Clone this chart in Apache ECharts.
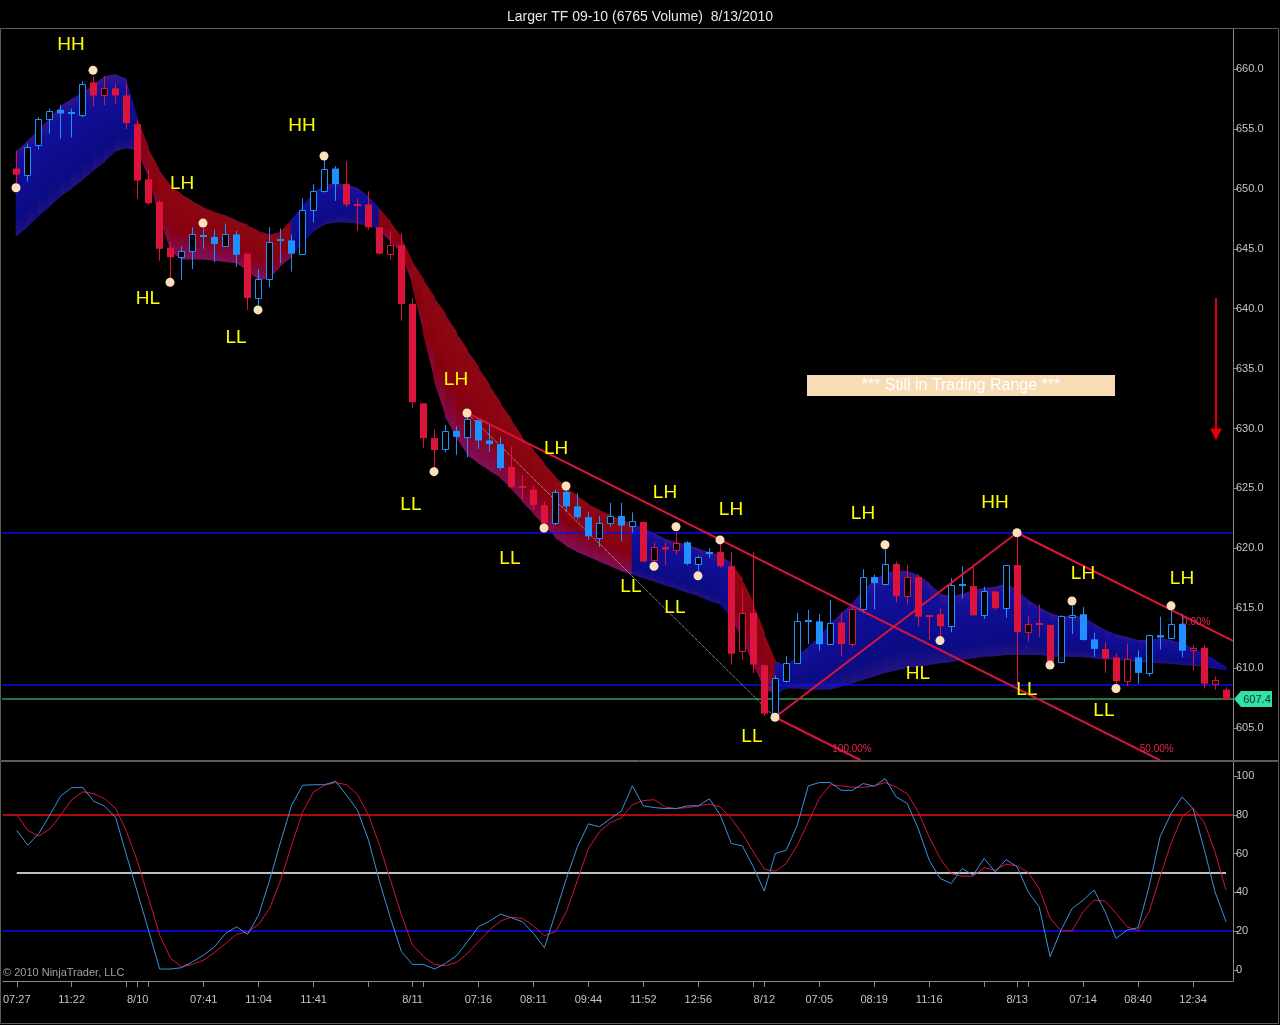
<!DOCTYPE html>
<html><head><meta charset="utf-8">
<script src="https://cdn.jsdelivr.net/npm/echarts@6/dist/echarts.min.js"></script>
<style>html,body{margin:0;padding:0;background:#000;}#c{width:1280px;height:1025px;}</style>
</head><body><div id="c"></div>
<script>
// ---------- DATA ----------
const opens = [651.7,651.2,653.7,655.8,656.6,656.3,656.2,658.9,657.8,658.4,
657.8,655.4,650.8,648.9,645.1,644.3,644.8,646.1,646.0,645.2,
646.2,644.6,640.9,642.5,645.7,645.7,644.6,648.2,649.8,651.7,
650.4,648.7,648.7,646.8,644.6,645.3,640.4,632.1,629.2,628.3,
629.8,629.3,630.7,629.0,628.7,626.8,625.1,624.9,623.6,622.1,
624.7,623.5,622.6,620.9,622.1,622.7,621.9,622.2,619.0,620.1,
619.9,620.5,618.7,619.6,619.7,618.5,611.4,614.6,610.25,606.1,
608.9,610.4,613.9,613.9,612.0,613.8,612.0,614.9,617.6,617.05,
618.7,616.0,617.6,614.35,614.5,613.5,616.9,616.85,614.4,616.4,
615.0,618.6,613.0,613.7,613.6,610.5,614.3,614.5,612.4,611.6,
610.9,608.9,610.9,609.6,612.75,612.55,613.7,611.5,611.7,608.7,608.2];
const highs = [653.2,653.8,656.0,656.7,657.0,656.7,659.0,659.4,659.4,658.8,
658.8,655.7,651.6,649.0,645.6,645.2,646.8,646.7,646.6,647.1,
646.5,644.6,643.3,646.8,646.7,646.2,649.2,650.4,652.4,651.9,
652.3,649.2,649.8,646.8,646.5,646.3,640.9,632.1,629.9,630.3,
630.2,630.95,630.7,630.3,629.3,628.5,626.1,625.3,623.9,624.9,
624.85,624.6,623.0,622.7,623.8,623.8,623.0,622.25,620.5,620.5,
621.25,620.6,619.4,620.0,620.4,619.7,616.6,619.7,610.3,609.4,
611.0,614.6,614.85,614.5,615.7,614.6,615.3,618.25,617.8,619.9,
618.9,618.6,617.8,614.4,615.0,617.5,618.5,618.7,616.8,616.4,
618.6,621.0,614.35,615.3,613.6,614.4,615.2,615.1,612.95,612.2,
611.2,612.05,611.5,612.8,614.3,614.8,614.55,611.9,611.9,609.3,608.4];
const lows = [650.5,650.6,653.3,654.6,654.2,654.3,656.0,656.9,657.0,657.1,
655.0,649.2,648.7,644.0,642.3,642.4,643.3,645.0,643.9,645.2,
643.5,639.9,640.3,641.8,643.8,643.1,644.5,647.2,649.7,649.0,
648.5,646.5,646.6,644.5,644.1,639.0,631.7,628.4,626.7,628.0,
627.8,627.6,628.3,628.0,626.5,625.0,624.05,623.2,622.0,621.95,
623.1,622.4,620.7,620.1,621.8,620.6,621.3,618.9,618.85,618.6,
619.5,618.6,618.1,619.2,618.4,610.3,610.7,609.6,606.0,605.95,
608.8,610.4,612.0,611.45,612.0,611.0,611.8,614.6,614.9,616.9,
615.5,615.3,613.5,612.35,612.6,613.0,615.8,614.4,614.1,614.85,
614.2,608.7,612.2,612.6,610.3,610.4,612.85,612.3,610.95,609.6,
608.6,608.5,608.7,609.3,611.55,612.5,610.9,609.8,608.3,608.2,607.4];
const closes = [651.2,653.5,655.8,656.5,656.3,656.3,658.8,657.8,658.4,657.8,
655.5,650.7,648.8,645.0,644.3,644.8,646.2,646.1,645.4,646.2,
644.5,640.9,642.5,645.6,645.7,644.6,648.2,649.8,651.7,650.4,
648.7,648.7,646.8,644.6,645.3,640.4,632.2,629.2,628.2,629.8,
629.3,630.8,629.0,628.7,626.7,625.1,625.1,623.6,622.1,624.7,
623.5,622.6,621.0,622.1,622.7,621.9,622.25,618.9,620.1,619.9,
620.45,618.7,619.3,619.6,618.5,611.2,614.6,610.3,606.2,609.2,
610.4,613.9,613.9,612.0,613.8,612.0,614.9,617.6,617.1,618.7,
616.0,617.6,614.3,614.35,613.5,616.9,616.9,614.4,616.4,615.0,
618.6,613.0,613.7,613.7,610.5,614.35,614.45,612.35,611.6,610.8,
608.9,610.8,609.6,612.75,612.55,613.7,611.45,611.7,608.7,609.0,607.4];
// bar paint signal: 1 = up (blue), -1 = down (red)
const barTrend = [-1,1,1,1,1,1,1,-1,-1,-1, -1,-1,-1,-1,-1,1,1,1,1,1, 1,-1,1,1,1,1,1,1,1,1,
-1,-1,-1,-1,-1,-1,-1,-1,-1,1, 1,1,1,1,1,-1,-1,-1,-1,1, 1,1,1,1,1,1,1,-1,-1,-1,
-1,1,1,1,-1,-1,-1,-1,-1,1, 1,1,1,1,1,-1,-1,1,1,1, -1,-1,-1,-1,-1,1,1,-1,1,-1,
1,-1,-1,-1,-1,1,1,1,1,-1, -1,-1,1,1,1,1,1,-1,-1,-1,-1];
// moving-average ribbon edges and state
const ribbonUpper = [653.1,654.0,654.9,655.9,656.9,657.5,658.0,658.7,659.4,659.6,
659.2,656.0,653.5,651.6,650.3,649.6,649.0,648.5,648.1,647.8,
647.4,647.0,646.5,646.2,646.4,647.4,648.5,649.7,650.3,650.5,
650.4,650.1,649.4,648.4,647.3,646.0,644.0,642.5,641.0,639.6,
638.1,636.6,635.2,633.7,632.2,630.8,629.3,628.3,627.1,626.0,
625.1,624.4,623.75,623.2,622.8,622.4,622.1,621.7,621.25,620.8,
620.55,620.3,620.0,619.7,619.4,618.8,617.5,615.5,613.0,610.6,
610.2,611.0,611.8,612.6,613.7,614.6,615.4,616.5,617.35,617.9,
618.2,618.1,617.8,617.1,616.2,616.0,616.2,616.5,616.7,616.8,
617.1,616.5,615.7,615.1,614.6,614.3,614.4,614.3,613.7,613.2,
612.8,612.6,612.35,612.35,612.5,612.35,612.1,611.65,611.2,610.7,610.1];
const ribbonLower = [646.0,646.8,647.7,648.5,649.35,650.0,650.7,651.5,652.2,653.1,
653.4,653.2,651.0,647.7,644.8,644.1,644.1,644.1,644.0,643.9,
643.8,643.2,642.4,642.5,643.5,644.3,645.5,646.4,647.0,647.2,
647.2,647.1,646.9,646.6,645.6,644.7,642.0,638.0,634.0,631.0,
629.3,627.8,627.1,626.5,625.9,625.0,623.9,622.9,621.9,620.9,
620.2,619.7,619.3,618.9,618.5,618.1,617.8,617.5,617.2,616.9,
616.6,616.3,616.0,615.6,615.3,614.2,612.4,610.3,608.3,607.8,
608.3,608.3,608.2,608.2,608.2,608.45,608.7,609.0,609.3,609.6,
609.8,610.0,610.1,610.25,610.4,610.5,610.7,610.8,610.95,611.0,
611.1,611.1,611.1,611.1,611.0,610.95,610.95,610.9,610.8,610.7,
610.7,610.6,610.5,610.45,610.4,610.35,610.25,610.2,610.1,609.95,609.8];
const ribbonTrend = [1,1,1,1,1,1,1,1,1,1, 1,-1,-1,-1,-1,-1,-1,-1,-1,-1, -1,-1,-1,-1,-1,1,1,1,1,1,
1,1,1,-1,-1,-1,-1,-1,-1,-1, -1,-1,-1,-1,-1,-1,-1,-1,-1,-1, -1,-1,-1,-1,-1,-1,1,1,1,1,
1,1,1,1,1,-1,-1,-1,-1,1, 1,1,1,1,1,1,1,1,1,1, 1,1,1,1,1,1,1,1,1,1,
1,1,1,1,1,1,1,1,1,1, 1,1,1,1,1,1,1,1,1,1,1];
// stochastics
const stochK = [72.0,64.3,70.3,79.8,89.7,94.0,94.0,87.0,84.4,78.6,
58.8,39.5,20.2,0.5,0.5,1.2,4.3,7.7,12.0,18.9,
22.3,18.4,28.3,46.3,66.0,84.9,95.2,95.5,95.5,97.3,
90.1,82.3,66.9,45.5,26.6,9.4,2.9,2.9,0.5,3.4,
7.4,14.6,22.3,25.2,28.8,26.9,24.9,18.9,11.5,29.2,
47.2,63.5,75.3,73.8,78.0,82.0,94.9,84.6,83.7,83.2,
83.2,84.6,84.6,88.2,79.8,65.2,64.0,53.2,40.7,60.0,
61.7,74.6,94.9,96.6,96.6,92.6,92.6,96.1,94.7,98.6,
89.2,85.8,72.9,56.6,47.2,44.6,52.3,48.9,57.5,50.6,
56.9,53.2,40.3,32.6,6.9,20.6,31.7,36.0,41.2,30.0,
16.3,20.6,21.8,42.9,68.6,80.6,89.2,83.2,62.6,40.3,24.9];
const stochD = [80.1,72.0,69.0,72.6,79.8,87.8,91.8,90.9,88.3,83.2,
71.2,55.7,36.9,18.0,6.0,1.7,2.9,5.1,9.1,13.7,
18.4,19.7,23.5,31.7,46.3,64.3,81.5,91.8,95.2,96.6,
95.5,90.4,79.8,64.3,46.3,28.3,12.9,6.9,2.9,2.2,
3.9,8.6,14.6,20.6,25.2,27.3,26.6,22.8,17.7,19.7,
30.0,46.3,62.6,71.2,76.0,78.4,85.2,87.3,87.8,84.0,
83.2,83.7,84.6,85.6,84.0,78.0,70.3,60.9,52.0,50.9,
54.9,64.3,76.3,88.3,95.5,94.9,94.2,94.2,94.9,96.6,
94.3,90.9,81.5,68.6,57.5,49.7,48.4,48.4,52.7,51.5,
54.5,53.7,50.3,42.0,26.6,20.2,20.2,30.0,36.0,35.5,
29.2,22.3,20.2,30.0,48.0,65.2,78.9,83.5,76.3,60.9,41.2];
const stochLevels = [80, 50, 20];
// x axis labels
const xLabelIdx = [0,5,11,17,22,27,36,42,47,52,57,62,68,73,78,83,91,97,102,107];
const xLabelText = ['07:27','11:22','8/10','07:41','11:04','11:41','8/11','07:16','08:11','09:44','11:52','12:56','8/12','07:05','08:19','11:16','8/13','07:14','08:40','12:34'];
const xTickIdx = [0,5,10,11,12,17,22,27,32,36,37,42,47,52,57,62,67,68,73,78,83,88,91,92,97,102,107];
const priceTicks = [605,610,615,620,625,630,635,640,645,650,655,660];
const oscTicks = [0,20,40,60,80,100];
// swing points (bar index, price)
const swingIdx   = [7,17,28,41,50,60,64,79,91,96,105, 0,14,22,38,48,58,62,69,84,94,100];
const swingPrice = [659.9,647.15,652.75,631.3,625.2,621.8,620.7,620.3,621.3,615.6,615.2,
                    650.1,642.2,639.9,626.4,621.7,618.5,617.7,605.9,612.3,610.25,608.3];
// pattern labels
const patText  = ['HH','HH','LH','HL','LL','LH','LL','LH','LL','LH','LL','LH','LL','LL','LH','HH','HL','LL','LH','LL','LH'];
const patIdx   = [5,26,15.1,12,20,40,35.9,49.1,44.9,59,55.9,65,59.9,66.9,77,89,82,91.9,97,98.9,106];
const patPrice = [662.0,655.25,650.4,640.8,637.6,634.05,623.6,628.3,619.1,624.6,616.8,623.2,615.0,604.25,622.9,623.8,609.5,608.2,617.85,606.4,617.5];
// drawn lines: [x1, y1, x2, y2]
const channelLines = [[91,621.3,110.64,612.27],[41,631.3,104,602.32],[69,605.9,76.76,602.33],[69,605.9,91,621.3]];
const dottedLine = [41,631.3,69,605.9];
const channelPctText = ['0.00%','50.00%','100.00%'];
const channelPctIdx = [107.3,103.7,76.0];
const channelPctPrice = [613.87,603.25,603.25];
const levelLines = [621.28, 608.6];
const lastPrice = 607.4;
const arrowLine = [109.1, 640.9, 629.0];
const noteText = '*** Still in Trading Range ***';
const notePos = [85.9, 633.6];

// ---------- CHART ----------
const XMIN = -14/11, XMAX = 1217/11;
const FONT = 'Liberation Sans, Arial, sans-serif';
const chart = echarts.init(document.getElementById('c'), null, {renderer:'canvas'});
const N = opens.length;
const bars = opens.map((o,i)=>[i,o,highs[i],lows[i],closes[i],barTrend[i]]);
const ribbonSeg = [];
for (let i=0;i<N-1;i++) ribbonSeg.push([i, ribbonUpper[i], ribbonLower[i], ribbonUpper[i+1], ribbonLower[i+1], ribbonTrend[i]]);
const BLUE='#1e90ff', RED='#dc143c';

function renderCandle(params, api){
  const i=api.value(0), o=api.value(1), h=api.value(2), l=api.value(3), c=api.value(4), t=api.value(5);
  const col = t>0 ? BLUE : RED;
  const pO=api.coord([i,o]), pC=api.coord([i,c]), pH=api.coord([i,h]), pL=api.coord([i,l]);
  const x = Math.round(pO[0])+0.5;
  const ch=[];
  const top=Math.min(pO[1],pC[1]), bot=Math.max(pO[1],pC[1]);
  if (Math.abs(c-o)<0.06){
    ch.push({type:'line',shape:{x1:x,y1:pH[1],x2:x,y2:pL[1]},style:{stroke:col,lineWidth:1}});
    const yy=Math.round(pO[1]);
    ch.push({type:'rect',shape:{x:x-3.5,y:yy-1,width:7,height:2},style:{fill:col}});
  } else if (c<o){
    ch.push({type:'line',shape:{x1:x,y1:pH[1],x2:x,y2:pL[1]},style:{stroke:col,lineWidth:1}});
    ch.push({type:'rect',shape:{x:x-3.5,y:top,width:7,height:Math.max(1.5,bot-top)},style:{fill:col}});
  } else {
    const t0=Math.round(top)+0.5, b0=Math.round(bot)+0.5;
    ch.push({type:'line',shape:{x1:x,y1:pH[1],x2:x,y2:t0},style:{stroke:col,lineWidth:1}});
    ch.push({type:'line',shape:{x1:x,y1:b0,x2:x,y2:pL[1]},style:{stroke:col,lineWidth:1}});
    ch.push({type:'rect',shape:{x:x-3,y:t0,width:6,height:Math.max(1,b0-t0)},style:{fill:'#000',stroke:col,lineWidth:1}});
  }
  return {type:'group',children:ch};
}
function renderRibbon(params, api){
  const i=api.value(0);
  const a=api.coord([i,api.value(1)]), b=api.coord([i+1,api.value(3)]);
  const c=api.coord([i+1,api.value(4)]), d=api.coord([i,api.value(2)]);
  const st=api.value(5);
  const grad = st>0
    ? new echarts.graphic.LinearGradient(0,0,0,1,[{offset:0,color:'#3c1686'},{offset:0.18,color:'#12109a'},{offset:0.8,color:'#0b0b84'},{offset:1,color:'#26137e'}])
    : new echarts.graphic.LinearGradient(0,0,0,1,[{offset:0,color:'#6a0a34'},{offset:0.1,color:'#8e0812'},{offset:0.6,color:'#860010'},{offset:1,color:'#7e1062'}]);
  return {type:'group',children:[{type:'polygon',silent:true,shape:{points:[[a[0]-0.3,a[1]],[b[0]+0.7,b[1]],[c[0]+0.7,c[1]],[d[0]-0.3,d[1]]]},style:{fill:grad}}]};
}
function textSeries(data, fill, font){
  return {type:'custom',xAxisIndex:0,yAxisIndex:0,silent:true,z:20,data:data.map(d=>[d[0],d[1]]),
    renderItem:(p,api)=>{const pt=api.coord([api.value(0),api.value(1)]);
      return {type:'group',children:[{type:'text',x:pt[0],y:pt[1],style:{text:data[p.dataIndex][2],fill:fill,font:font,align:'center',verticalAlign:'middle'}}]};}};
}
function seg(x1,y1,x2,y2,color,width,type,xi,yi,z){
  return {type:'line',xAxisIndex:xi||0,yAxisIndex:yi||0,data:[[x1,y1],[x2,y2]],symbol:'none',silent:true,z:z||5,
    lineStyle:{color:color,width:width,type:type||'solid'},animation:false};
}
// horizontal rule from x1 to x2 at level v (spread over two pixel rows so its colour survives)
function hline(x1,x2,v,color,xi,yi,z){
  return {type:'custom',xAxisIndex:xi,yAxisIndex:yi,silent:true,z:z||3,data:[[x1,v,x2]],clip:false,
    renderItem:(p,api)=>{const a=api.coord([api.value(0),api.value(1)]), b=api.coord([api.value(2),api.value(1)]);
      const y=Math.round(a[1]);
      return {type:'group',children:[{type:'line',shape:{x1:a[0],y1:y,x2:b[0],y2:y},style:{stroke:color,lineWidth:1.6}}]};}};
}

const series = [];
series.push({type:'custom',xAxisIndex:0,yAxisIndex:0,data:ribbonSeg,renderItem:renderRibbon,z:1,silent:true});
levelLines.forEach(v=>series.push(hline(XMIN,XMAX,v,'#0c0cf0',0,0,3)));
series.push(hline(XMIN,XMAX,lastPrice,'#2e9a5e',0,0,3));
series.push(seg(dottedLine[0],dottedLine[1],dottedLine[2],dottedLine[3],'#c8c8c8',1,'dotted',0,0,4));
series.push({type:'custom',xAxisIndex:0,yAxisIndex:0,data:bars,renderItem:renderCandle,z:6,silent:true});
channelLines.forEach(l=>series.push(seg(l[0],l[1],l[2],l[3],'#dc143c',2,'solid',0,0,8)));
series.push({type:'scatter',xAxisIndex:0,yAxisIndex:0,data:swingIdx.map((x,k)=>[x,swingPrice[k]]),symbol:'circle',symbolSize:9,
  itemStyle:{color:'#fbe0bb',opacity:1},z:9,silent:true});
series.push(textSeries(patText.map((t,k)=>[patIdx[k],patPrice[k],t]),'#ffff00','19px '+FONT));
series.push(textSeries(channelPctText.map((t,k)=>[channelPctIdx[k],channelPctPrice[k],t]),'#e0284a','10px '+FONT));
// note box
series.push({type:'custom',xAxisIndex:0,yAxisIndex:0,data:[notePos],silent:true,z:21,renderItem:(p,api)=>{
  const pt=api.coord([api.value(0),api.value(1)]);
  return {type:'group',children:[
    {type:'rect',shape:{x:Math.round(pt[0]-154),y:Math.round(pt[1]-10.5),width:308,height:21},style:{fill:'#f7dcb5'}},
    {type:'text',x:pt[0],y:pt[1]+0.5,style:{text:noteText,fill:'#ffffff',font:'16px '+FONT,align:'center',verticalAlign:'middle'}}]};}});
// red arrow
series.push({type:'custom',xAxisIndex:0,yAxisIndex:0,data:[arrowLine],silent:true,z:21,renderItem:(p,api)=>{
  const a=api.coord([api.value(0),api.value(1)]), b=api.coord([api.value(0),api.value(2)]);
  const x=Math.round(a[0]);
  return {type:'group',children:[
    {type:'line',shape:{x1:x,y1:a[1],x2:x,y2:b[1]-8},style:{stroke:'#e00000',lineWidth:2}},
    {type:'polygon',shape:{points:[[x-6,b[1]-12],[x+6,b[1]-12],[x,b[1]]]},style:{fill:'#e00000'}}]};}});
// last price tag
series.push({type:'custom',xAxisIndex:0,yAxisIndex:0,data:[[XMAX,lastPrice]],silent:true,z:30,clip:false,renderItem:(p,api)=>{
  const pt=api.coord([api.value(0),api.value(1)]);
  const x=pt[0], y=Math.round(pt[1]);
  return {type:'group',children:[
    {type:'polygon',shape:{points:[[x+1,y],[x+8,y-8],[x+39,y-8],[x+39,y+8],[x+8,y+8]]},style:{fill:'#33e0a8'}},
    {type:'text',x:x+24,y:y+0.5,style:{text:lastPrice.toFixed(1),fill:'#063a26',font:'11px '+FONT,align:'center',verticalAlign:'middle'}}]};}});
// oscillator
series.push(hline(XMIN,XMAX,stochLevels[0],'#e01010',1,1,3));
series.push(hline(0,N-1,stochLevels[1],'#ffffff',1,1,3));
series.push(hline(XMIN,XMAX,stochLevels[2],'#0c0cff',1,1,3));
series.push({type:'line',xAxisIndex:1,yAxisIndex:1,data:stochD.map((v,i)=>[i,v]),symbol:'none',silent:true,z:6,lineStyle:{color:'#d4143a',width:1}});
series.push({type:'line',xAxisIndex:1,yAxisIndex:1,data:stochK.map((v,i)=>[i,v]),symbol:'none',silent:true,z:7,lineStyle:{color:'#3d91dc',width:1}});

const axisCol='#8a8a8a', labCol='#c4c4c4';
const option = {
  backgroundColor:'#000',
  animation:false,
  textStyle:{fontFamily:FONT},
  title:{text:'Larger TF 09-10 (6765 Volume)  8/13/2010',left:'center',top:5,
    textStyle:{color:'#e6e6e6',fontSize:14,fontWeight:'normal',fontFamily:FONT}},
  grid:[{left:2,width:1231,top:29,height:731},{left:2,width:1231,top:762,height:219}],
  xAxis:[
    {type:'value',gridIndex:0,min:XMIN,max:XMAX,show:false},
    {type:'value',gridIndex:1,min:XMIN,max:XMAX,
      axisLine:{show:true,onZero:false,lineStyle:{color:axisCol}},
      axisTick:{show:true,customValues:xTickIdx,length:6,lineStyle:{color:axisCol}},
      axisLabel:{show:true,customValues:xLabelIdx,color:labCol,fontSize:11,margin:13,
        formatter:(v)=>{const k=xLabelIdx.indexOf(Math.round(v));return k>=0?xLabelText[k]:'';}},
      splitLine:{show:false}}
  ],
  yAxis:[
    {type:'value',gridIndex:0,position:'right',min:602.33,max:663.35,
      axisLine:{show:true,onZero:false,lineStyle:{color:axisCol}},
      axisTick:{show:true,customValues:priceTicks,length:5,lineStyle:{color:axisCol}},
      axisLabel:{show:true,customValues:priceTicks,color:labCol,fontSize:11,margin:3,formatter:v=>Number(v).toFixed(1)},
      splitLine:{show:false}},
    {type:'value',gridIndex:1,position:'right',min:-5.66,max:107.2,
      axisLine:{show:true,onZero:false,lineStyle:{color:axisCol}},
      axisTick:{show:true,customValues:oscTicks,length:5,lineStyle:{color:axisCol}},
      axisLabel:{show:true,customValues:oscTicks,color:labCol,fontSize:11,margin:3,formatter:v=>String(Math.round(v))},
      splitLine:{show:false}}
  ],
  graphic:[
    {type:'rect',silent:true,z:100,shape:{x:0.5,y:28.5,width:1278,height:732},style:{fill:'none',stroke:'#5c5c5c',lineWidth:1}},
    {type:'rect',silent:true,z:100,shape:{x:0.5,y:761.5,width:1278,height:262},style:{fill:'none',stroke:'#5c5c5c',lineWidth:1}},
    {type:'text',silent:true,z:100,left:3,top:967,style:{text:'\u00a9 2010 NinjaTrader, LLC',fill:'#a0a0a0',font:'11px '+FONT}}
  ],
  series:series
};
chart.setOption(option);
</script></body></html>
